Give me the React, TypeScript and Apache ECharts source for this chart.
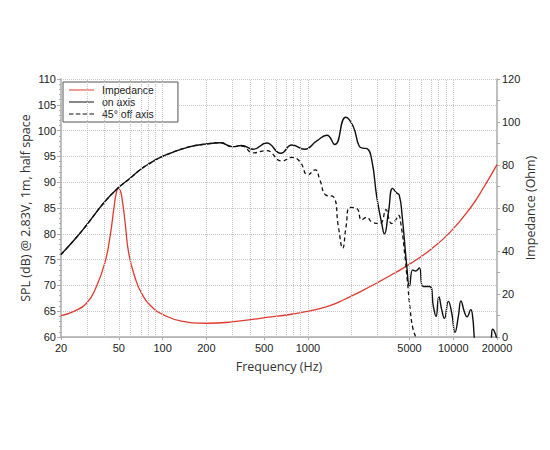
import React, { useEffect, useRef } from "react";
import * as echarts from "echarts";

const xTickLabels = [20, 50, 100, 200, 500, 1000, 5000, 10000, 20000];
const xGridFreqs = [30, 40, 50, 60, 70, 80, 90, 100, 200, 300, 400, 500, 600, 700, 800, 900, 1000, 2000, 3000, 4000, 5000, 6000, 7000, 8000, 9000, 10000];
const seriesNames = ["Impedance", "on axis", "45° off axis"];

const impFreq = [20, 24.3, 30, 35, 40, 43.5, 46.4, 48.2, 49.6, 51, 52.4, 55.3, 58.5, 64.4, 71.7, 84.2, 100, 135, 200, 300, 470, 790, 1030, 1350, 1750, 2280, 2975, 3870, 5040, 6930, 9530, 13100, 16100, 20000];
const impOhm = [9.9, 11.8, 15.7, 23.4, 34.3, 46.7, 60.6, 67.5, 69.2, 68.2, 65.3, 52.9, 38.9, 28.0, 20.3, 14.1, 10.5, 7.4, 6.4, 7.0, 8.7, 10.7, 12.1, 14.1, 17.2, 21.0, 25.1, 29.4, 34.0, 40.5, 48.8, 60.0, 69.3, 80.2];

const onFreq = [20, 25, 30, 40, 50, 60, 70, 80, 100, 150, 200, 250, 300, 350, 420, 520, 650, 775, 950, 1150, 1350, 1530, 1820, 2050, 2250, 2400, 2550, 2750, 2975, 3220, 3360, 3575, 3830, 4050, 4250, 4450, 4780, 5000, 5260, 5520, 5840, 6200, 6900, 7300, 7610, 7960, 8340, 8690, 9260, 9770, 10280, 10830, 11300, 11950, 12450, 13200, 13600, 13950, 14300, 18000, 18300, 18650, 19100, 19800, 20000];
const onSpl = [76.0, 79.0, 81.7, 86.2, 89.0, 90.8, 92.4, 93.5, 95.0, 96.8, 97.4, 97.65, 96.9, 97.1, 96.4, 97.6, 95.6, 97.2, 96.4, 98.0, 99.1, 97.3, 102.6, 100.8, 97.0, 96.6, 96.5, 94.3, 87.2, 82.0, 80.0, 84.0, 88.8, 88.0, 87.5, 83.5, 74.0, 69.8, 73.0, 72.8, 73.4, 69.8, 69.8, 65.9, 64.0, 67.8, 65.2, 63.6, 66.9, 64.6, 60.9, 63.9, 67.0, 64.8, 63.9, 65.3, 63.9, 60.0, 57.0, 57.0, 59.8, 61.5, 61.2, 60.0, 59.0];

const offFreq = [20, 25, 30, 40, 50, 60, 70, 80, 100, 150, 200, 250, 300, 350, 420, 520, 660, 775, 880, 1000, 1120, 1210, 1330, 1495, 1620, 1735, 1830, 1950, 2170, 2340, 2540, 2750, 3130, 3450, 3600, 3760, 4000, 4190, 4400, 4630, 4830, 5060, 5270, 5510, 5700];
const offSpl = [76.0, 79.0, 81.7, 86.2, 89.0, 90.8, 92.4, 93.5, 95.0, 96.8, 97.4, 97.65, 96.9, 97.0, 95.7, 96.1, 94.1, 94.8, 94.0, 91.4, 92.4, 90.4, 87.5, 87.2, 81.4, 77.2, 81.4, 85.1, 84.9, 82.7, 83.2, 82.3, 82.0, 84.7, 83.0, 82.0, 82.6, 83.6, 81.2, 76.2, 71.0, 65.2, 61.7, 60.0, 58.0];

const toXY = (fs: number[], vs: number[]) => fs.map((f, i) => [Math.log10(f), vs[i]]);

const tickFont = "Liberation Sans";
const titleFont = "Open Sans";
const gridColor = "#c6c6c6";
const axisColor = "#aaaaaa";
const solidIcon = "path://M0,0h25v1h-25z";
const dashIcon = "path://M0,0h4.5v1h-4.5zM6.8,0h4.5v1h-4.5zM13.6,0h4.5v1h-4.5zM20.4,0h4.6v1h-4.6z";

export default function App() {
  const ref = useRef<HTMLDivElement>(null);
  useEffect(() => {
    if (!ref.current) return;
    const chart = echarts.init(ref.current, null, { renderer: "svg" });
    const lineCommon = { type: "line", showSymbol: false, symbol: "none", smooth: 0.5 };
    chart.setOption({
      animation: false,
      backgroundColor: "#ffffff",
      grid: { left: 61, right: 53, top: 79, bottom: 113 },
      legend: {
        data: [
          { name: seriesNames[0], icon: solidIcon },
          { name: seriesNames[1], icon: solidIcon },
          { name: seriesNames[2], icon: dashIcon },
        ],
        orient: "vertical",
        left: 63,
        top: 82,
        padding: [2, 24, 2, 6],
        itemGap: 0,
        itemWidth: 25,
        itemHeight: 1.4,
        borderColor: "#555",
        borderWidth: 1,
        borderRadius: 0,
        backgroundColor: "#fff",
        textStyle: { fontFamily: tickFont, fontSize: 10.5, lineHeight: 12, color: "#222", padding: [0, 0, 0, 3] },
      },
      xAxis: {
        type: "value",
        min: Math.log10(20),
        max: Math.log10(20000),
        name: "Frequency (Hz)",
        nameLocation: "middle",
        nameGap: 23,
        nameMoveOverlap: false,
        nameTextStyle: { fontFamily: titleFont, fontSize: 12.5, color: "#333" },
        axisLine: { show: true, onZero: false, lineStyle: { color: axisColor, width: 1.5 } },
        axisTick: { show: true, length: 3, lineStyle: { color: axisColor }, customValues: xTickLabels.map((f) => Math.log10(f)) },
        axisLabel: {
          customValues: xTickLabels.map((f) => Math.log10(f)),
          formatter: (v: number) => String(Math.round(Math.pow(10, v))),
          fontFamily: tickFont,
          fontSize: 11,
          color: "#222",
          margin: 5,
        },
        splitLine: { show: false },
      },
      yAxis: [
        {
          type: "value",
          min: 60,
          max: 110,
          interval: 5,
          position: "left",
          name: "SPL (dB) @ 2.83V, 1m, half space",
          nameLocation: "middle",
          nameRotate: 90,
          nameGap: 29,
          nameMoveOverlap: false,
          nameTextStyle: { fontFamily: titleFont, fontSize: 12.5, color: "#333" },
          axisLine: { show: true, lineStyle: { color: axisColor, width: 1.5 } },
          axisTick: { show: true, length: 4, lineStyle: { color: axisColor } },
          minorTick: { show: true, splitNumber: 5, length: 2, lineStyle: { color: axisColor } },
          axisLabel: { fontFamily: tickFont, fontSize: 11, color: "#222", margin: 5 },
          splitLine: { show: true, lineStyle: { type: "dotted", color: gridColor, width: 1 } },
        },
        {
          type: "value",
          min: 0,
          max: 120,
          interval: 10,
          position: "right",
          name: "Impedance (Ohm)",
          nameLocation: "middle",
          nameRotate: 90,
          nameGap: 27,
          nameMoveOverlap: false,
          nameTextStyle: { fontFamily: titleFont, fontSize: 12.5, color: "#333" },
          axisLine: { show: true, lineStyle: { color: axisColor, width: 1.5 } },
          axisTick: { show: true, length: 3, lineStyle: { color: axisColor } },
          axisLabel: {
            fontFamily: tickFont,
            fontSize: 11,
            color: "#222",
            margin: 5,
            formatter: (v: number) => (v % 20 === 0 ? String(v) : ""),
          },
          splitLine: { show: false },
        },
      ],
      series: [
        {
          type: "line",
          name: "__grid",
          data: [],
          silent: true,
          z: 1,
          markLine: {
            silent: true,
            symbol: ["none", "none"],
            label: { show: false },
            lineStyle: { type: "dotted", color: gridColor, width: 1 },
            emphasis: { disabled: true },
            data: xGridFreqs.map((f) => ({ xAxis: Math.log10(f) })),
          },
        },
        {
          ...lineCommon,
          name: seriesNames[0],
          yAxisIndex: 1,
          data: toXY(impFreq, impOhm),
          z: 3,
          lineStyle: { color: "#e0392e", width: 1.3 },
          itemStyle: { color: "#e0392e" },
        },
        {
          ...lineCommon,
          name: seriesNames[1],
          yAxisIndex: 0,
          data: toXY(onFreq, onSpl),
          z: 4,
          lineStyle: { color: "#111", width: 1.4 },
          itemStyle: { color: "#111" },
        },
        {
          ...lineCommon,
          name: seriesNames[2],
          yAxisIndex: 0,
          data: toXY(offFreq, offSpl),
          z: 4,
          lineStyle: { color: "#111", width: 1.3, type: [4, 3] },
          itemStyle: { color: "#111" },
        },
      ],
    });
    return () => chart.dispose();
  }, []);
  return <div ref={ref} style={{ position: "absolute", left: 0, top: 0, width: 550, height: 450 }} />;
}
